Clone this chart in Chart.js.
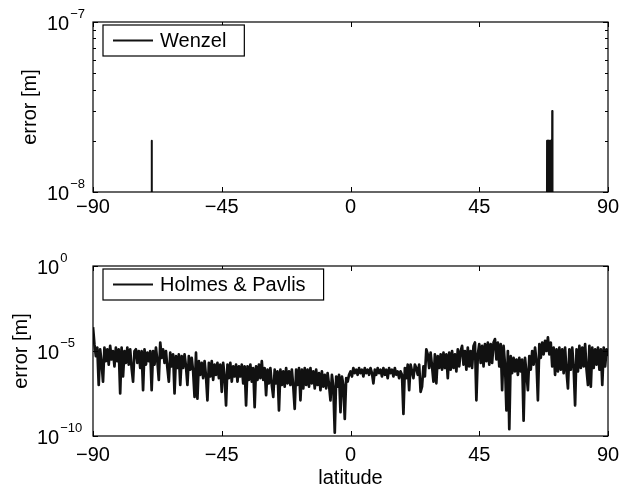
<!DOCTYPE html>
<html>
<head>
<meta charset="utf-8">
<script src="https://cdn.jsdelivr.net/npm/chart.js@4.4.1/dist/chart.umd.min.js"></script>
<style>
  html, body { margin: 0; padding: 0; background: #fff; }
  .panel { position: absolute; left: 0; width: 630px; }
  #top { top: 0; height: 240px; }
  #bottom { top: 240px; height: 250px; }
</style>
</head>
<body>
<div class="panel" id="top"><canvas id="wenzel"></canvas></div>
<div class="panel" id="bottom"><canvas id="holmes"></canvas></div>
<script>
const latTicks = [-90, -45, 0, 45, 90];

// Wenzel: error is below 1e-8 almost everywhere, only a few spikes show
const wenzelLat = [-90, -69.6, -69.5, -69.4,
  68.6, 68.7, 68.8, 68.9, 69.0, 69.1, 69.2, 69.3, 69.4, 69.5, 69.6,
  69.7, 69.8, 69.9, 70.0, 70.1, 70.2, 70.3, 70.4, 70.5, 70.6, 90];
const wenzelErr = [1e-9, 1e-9, 2e-8, 1e-9,
  1e-9, 2e-8, 1e-9, 2e-8, 1e-9, 2e-8, 1e-9, 2e-8, 1e-9, 2e-8, 1e-9,
  2e-8, 1e-9, 2e-8, 1e-9, 2e-8, 1e-9, 2e-8, 1e-9, 3e-8, 1e-9, 1e-9];
const wenzelTicks = [1e-8, 1e-7];
const wenzelMinor = [2e-8, 3e-8, 4e-8, 5e-8, 6e-8, 7e-8, 8e-8, 9e-8];

// Holmes & Pavlis: log10(error), one value every 0.5 degree from -90 to 90
const holmesStart = -90;
const holmesStep = 0.5;
const holmesExp = [
  -3.6,-4.6,-5.3,-4.8,-7.0,-4.9,-5.7,-6.8,-4.8,-5.6,
  -4.9,-5.8,-4.7,-5.5,-5.0,-5.9,-4.8,-5.6,-4.9,-7.5,
  -4.8,-6.5,-5.0,-5.7,-4.8,-5.8,-4.9,-6.0,-6.8,-5.0,
  -4.9,-5.7,-5.0,-6.0,-5.0,-7.3,-4.9,-5.8,-5.1,-5.6,
  -5.0,-7.3,-5.0,-5.8,-4.8,-5.6,-6.7,-4.5,-5.4,-4.9,
  -5.7,-5.0,-6.0,-6.8,-5.1,-5.9,-5.2,-7.5,-5.3,-6.0,
  -5.2,-7.0,-5.3,-6.0,-5.2,-5.9,-7.0,-5.3,-6.1,-5.4,
  -6.2,-7.7,-5.1,-7.8,-5.6,-6.4,-5.7,-6.6,-5.6,-6.5,
  -7.9,-5.7,-6.5,-5.6,-6.7,-5.8,-6.4,-5.7,-6.6,-5.8,
  -7.4,-5.7,-6.5,-8.2,-5.8,-6.6,-5.7,-6.8,-5.9,-6.5,
  -5.8,-6.8,-5.9,-6.5,-5.8,-6.9,-5.9,-8.2,-5.9,-6.7,
  -5.8,-6.8,-6.0,-8.3,-5.9,-6.7,-5.8,-6.6,-5.6,-6.7,
  -6.0,-7.6,-6.1,-6.9,-6.0,-7.0,-7.7,-6.1,-6.9,-6.2,
  -8.5,-6.1,-7.0,-6.2,-7.1,-6.0,-6.9,-6.2,-7.0,-6.1,
  -7.1,-8.4,-6.1,-7.0,-6.0,-7.9,-6.1,-7.2,-6.0,-7.0,
  -6.1,-7.1,-6.0,-6.9,-6.2,-7.2,-6.1,-7.0,-6.3,-7.3,
  -6.2,-7.1,-6.4,-7.2,-6.3,-7.0,-7.9,-6.4,-7.1,-9.8,
  -6.5,-7.1,-6.4,-8.6,-6.5,-7.0,-9.0,-6.6,-6.8,-6.4,
  -6.2,-6.5,-6.0,-6.3,-6.1,-6.4,-6.0,-6.3,-6.1,-6.5,
  -6.0,-6.3,-6.1,-6.4,-6.0,-6.3,-6.9,-6.1,-6.4,-6.0,
  -6.3,-6.1,-6.5,-6.0,-6.4,-6.1,-6.6,-6.0,-6.3,-6.1,
  -6.5,-6.0,-6.4,-6.2,-6.6,-6.2,-6.4,-8.7,-6.0,-6.6,
  -5.8,-7.3,-5.8,-6.2,-6.6,-5.8,-6.0,-6.4,-5.8,-7.4,
  -7.1,-5.9,-6.5,-4.9,-5.2,-6.0,-5.1,-5.9,-6.8,-5.2,
  -6.9,-5.3,-6.0,-5.2,-6.1,-5.1,-6.0,-5.2,-6.6,-5.1,
  -6.1,-5.0,-6.0,-5.2,-6.2,-4.9,-5.9,-5.0,-4.7,-5.8,
  -5.0,-6.1,-4.8,-5.9,-5.0,-6.0,-4.7,-4.5,-7.9,-5.2,
  -4.6,-5.7,-4.7,-5.9,-4.6,-5.6,-4.5,-5.8,-4.6,-5.7,
  -4.5,-4.3,-5.5,-4.5,-5.9,-4.6,-7.3,-4.7,-5.8,-8.5,
  -5.0,-9.6,-5.3,-6.3,-5.4,-6.2,-5.5,-6.4,-5.4,-6.2,
  -5.5,-9.1,-5.4,-6.3,-7.3,-5.3,-6.1,-5.0,-5.8,-4.8,
  -5.6,-7.9,-4.6,-5.4,-4.5,-5.2,-4.4,-5.0,-4.2,-5.2,
  -4.5,-5.9,-4.8,-6.4,-4.9,-6.2,-4.8,-6.1,-4.9,-6.3,
  -4.8,-6.2,-7.2,-4.9,-6.1,-4.8,-6.0,-8.2,-4.9,-6.2,
  -4.7,-6.0,-4.8,-5.9,-4.6,-6.1,-7.0,-4.7,-7.1,-4.8,
  -6.0,-4.9,-5.8,-4.8,-6.1,-4.9,-7.0,-4.8,-5.9,-4.9,
  -5.3
];
const holmesTicks = [1e-10, 1e-5, 1e0];

const FONT = '"Liberation Sans", Arial, Helvetica, sans-serif';
const INK = '#111';

const minus = (s) => String(s).replace('-', '\u2212');

// box, inward ticks, 10^n labels, y title and legend, matlab style
function framePlugin(cfg) {
  return {
    id: 'frame',
    afterDraw(chart) {
      const { ctx, chartArea: a, scales } = chart;
      const x = scales.x, y = scales.y;
      ctx.save();
      ctx.strokeStyle = '#000';
      ctx.lineWidth = 1.2;
      ctx.strokeRect(a.left, a.top, a.right - a.left, a.bottom - a.top);

      ctx.lineWidth = 1;
      ctx.beginPath();
      latTicks.forEach((v) => {
        const px = Math.round(x.getPixelForValue(v)) + 0.5;
        ctx.moveTo(px, a.bottom); ctx.lineTo(px, a.bottom - 5);
        ctx.moveTo(px, a.top); ctx.lineTo(px, a.top + 5);
      });
      cfg.yTicks.forEach((v) => {
        const py = Math.round(y.getPixelForValue(v)) + 0.5;
        ctx.moveTo(a.left, py); ctx.lineTo(a.left + 5, py);
        ctx.moveTo(a.right, py); ctx.lineTo(a.right - 5, py);
      });
      (cfg.yMinor || []).forEach((v) => {
        const py = Math.round(y.getPixelForValue(v)) + 0.5;
        ctx.moveTo(a.left, py); ctx.lineTo(a.left + 3, py);
        ctx.moveTo(a.right, py); ctx.lineTo(a.right - 3, py);
      });
      ctx.stroke();

      ctx.fillStyle = '#000';
      ctx.textAlign = 'left';
      ctx.textBaseline = 'alphabetic';
      cfg.yTicks.forEach((v) => {
        const py = y.getPixelForValue(v);
        ctx.font = '20px ' + FONT;
        ctx.fillText('10', cfg.labelX, py + 8);
        const w = ctx.measureText('10').width;
        ctx.font = '13px ' + FONT;
        ctx.fillText(minus(Math.round(Math.log10(v))), cfg.labelX + w + 1, py - 4);
      });

      ctx.save();
      ctx.translate(cfg.titleX, (a.top + a.bottom) / 2);
      ctx.rotate(-Math.PI / 2);
      ctx.font = '20px ' + FONT;
      ctx.textAlign = 'center';
      ctx.textBaseline = 'middle';
      ctx.fillText('error [m]', 0, 0);
      ctx.restore();

      if (cfg.xTitle) {
        ctx.font = '20px ' + FONT;
        ctx.textAlign = 'center';
        ctx.textBaseline = 'middle';
        ctx.fillText(cfg.xTitle, (a.left + a.right) / 2, cfg.xTitleY);
      }

      // legend
      ctx.font = '20px ' + FONT;
      const tw = ctx.measureText(cfg.legend).width;
      const lx = a.left + 10, ly = a.top + 3, lh = 31;
      const lw = 67 + tw + 8;
      ctx.fillStyle = '#fff';
      ctx.fillRect(lx, ly, lw, lh);
      ctx.strokeStyle = '#000';
      ctx.lineWidth = 1.2;
      ctx.strokeRect(lx, ly, lw, lh);
      ctx.strokeStyle = INK;
      ctx.lineWidth = 2;
      ctx.beginPath();
      ctx.moveTo(lx + 10, ly + lh / 2);
      ctx.lineTo(lx + 50, ly + lh / 2);
      ctx.stroke();
      ctx.fillStyle = '#000';
      ctx.textAlign = 'left';
      ctx.textBaseline = 'middle';
      ctx.fillText(cfg.legend, lx + 57, ly + lh / 2 + 1);
      ctx.restore();
    }
  };
}

function makeChart(id, points, yMin, yMax, opts) {
  return new Chart(document.getElementById(id), {
    type: 'line',
    data: {
      datasets: [{
        data: points,
        borderColor: INK,
        borderWidth: opts.lineWidth,
        borderJoinStyle: 'round',
        pointRadius: 0,
        tension: 0,
      }],
    },
    options: {
      responsive: true,
      maintainAspectRatio: false,
      animation: false,
      layout: { padding: { left: 0, right: 22, top: opts.padTop, bottom: 0 } },
      plugins: { legend: { display: false }, tooltip: { enabled: false } },
      scales: {
        x: {
          type: 'linear',
          min: -90,
          max: 90,
          grid: { display: false, drawTicks: false },
          border: { display: false },
          afterBuildTicks: (axis) => { axis.ticks = latTicks.map((v) => ({ value: v })); },
          afterFit: (axis) => { axis.height = opts.xHeight; },
          ticks: {
            color: '#000',
            padding: opts.xPad,
            maxRotation: 0,
            font: { size: 20, family: FONT },
            callback: (v) => minus(v),
          },
        },
        y: {
          type: 'logarithmic',
          min: yMin,
          max: yMax,
          grid: { display: false, drawTicks: false },
          border: { display: false },
          ticks: { display: false },
          afterFit: (axis) => { axis.width = 93; },
        },
      },
    },
    plugins: [framePlugin(opts.frame)],
  });
}

const wenzelPoints = wenzelLat.map((lat, i) => ({ x: lat, y: wenzelErr[i] }));
const holmesPoints = holmesExp.map((e, i) => ({ x: holmesStart + i * holmesStep, y: Math.pow(10, e) }));

makeChart('wenzel', wenzelPoints, 1e-8, 1e-7, {
  padTop: 22, xHeight: 48, xPad: 3, lineWidth: 2,
  frame: { yTicks: wenzelTicks, yMinor: wenzelMinor, labelX: 47, titleX: 30, legend: 'Wenzel' },
});

makeChart('holmes', holmesPoints, 1e-10, 1e0, {
  padTop: 26, xHeight: 54, xPad: 7, lineWidth: 2.7,
  frame: { yTicks: holmesTicks, labelX: 37, titleX: 21, legend: 'Holmes & Pavlis',
           xTitle: 'latitude', xTitleY: 238 },
});
</script>
</body>
</html>
